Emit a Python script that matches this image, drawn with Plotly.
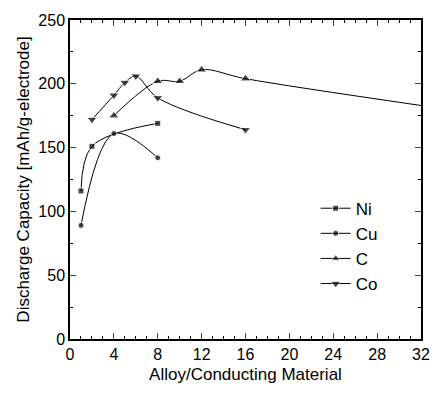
import plotly.graph_objects as go

ni_x = [1, 2, 8]
ni_y = [116, 151, 169]
cu_x = [1, 4, 8]
cu_y = [89, 161, 142]
c_x = [4, 8, 10, 12, 16, 32]
c_y = [175, 202, 202, 211, 204, 183]
co_x = [2, 4, 5, 6, 8, 16]
co_y = [172, 191, 201, 206, 189, 164]

x_ticks = [0, 4, 8, 12, 16, 20, 24, 28, 32]
y_ticks = [0, 50, 100, 150, 200, 250]

FONT = "Liberation Sans, Arial, sans-serif"

fig = go.Figure()
series = [
    ("Ni", ni_x, ni_y, "square", 6),
    ("Cu", cu_x, cu_y, "circle", 6),
    ("C", c_x, c_y, "triangle-up", 9),
    ("Co", co_x, co_y, "triangle-down", 9),
]
for name, xs, ys, sym, sz in series:
    sizes = [sz] * len(xs)
    if name == "C":
        sizes[-1] = 0
    fig.add_trace(go.Scatter(
        x=xs, y=ys, name=name, mode="lines+markers",
        line=dict(color="black", width=1, shape="spline", smoothing=1.0),
        marker=dict(symbol=sym, size=sizes, color="black"),
        cliponaxis=True,
    ))

fig.update_layout(
    width=442, height=393,
    margin=dict(l=70, r=15, t=15, b=52),
    paper_bgcolor="white", plot_bgcolor="white",
    font=dict(family=FONT, size=16, color="black"),
    showlegend=True,
    legend=dict(x=0.70, y=0.465, xanchor="left", yanchor="top",
                bgcolor="rgba(0,0,0,0)", font=dict(size=17),
                itemwidth=30, tracegroupgap=0),
)
fig.update_xaxes(
    range=[0, 32], tickvals=x_ticks, ticks="inside", ticklen=6,
    showline=True, linecolor="black", linewidth=1.5, mirror="allticks",
    showgrid=False, zeroline=False, tickfont=dict(size=16),
    minor=dict(dtick=1, ticks="inside", ticklen=3, tickcolor="black"),
    title=dict(text="Alloy/Conducting Material", font=dict(size=17), standoff=6),
)
fig.update_yaxes(
    range=[0, 250], tickvals=y_ticks, ticks="inside", ticklen=6,
    showline=True, linecolor="black", linewidth=1.5, mirror="allticks",
    showgrid=False, zeroline=False, tickfont=dict(size=16),
    minor=dict(dtick=25, ticks="inside", ticklen=3, tickcolor="black"),
    title=dict(text="Discharge Capacity [mAh/g-electrode]", font=dict(size=17), standoff=4),
)
fig.write_html("out.html")
